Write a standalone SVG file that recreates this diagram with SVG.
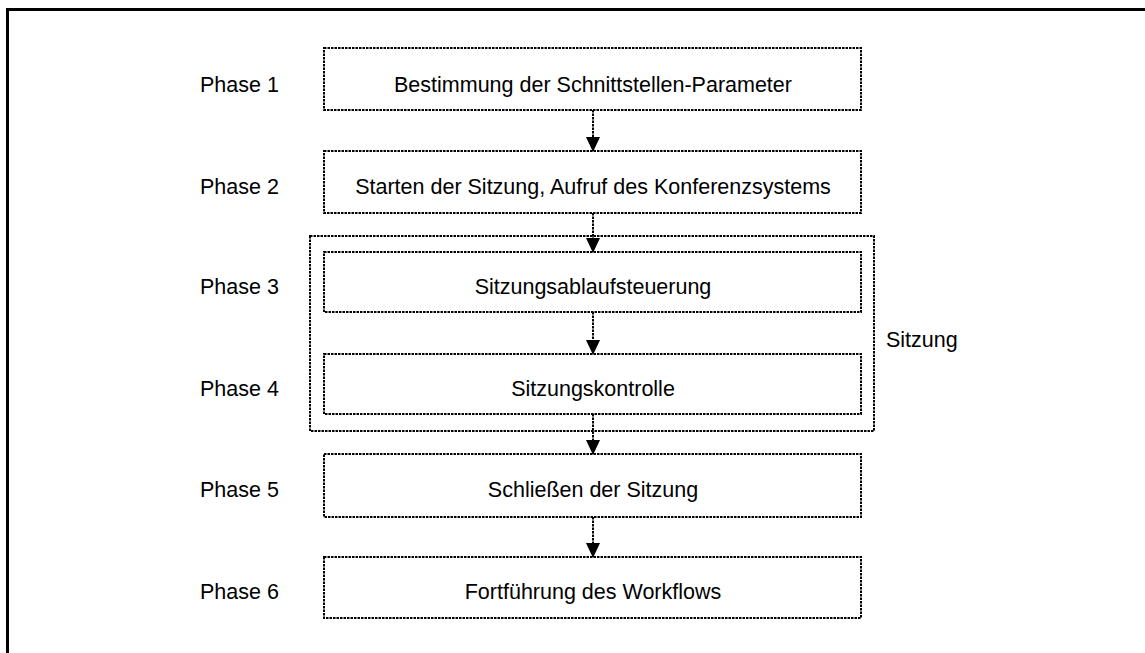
<svg xmlns="http://www.w3.org/2000/svg" width="1145" height="653" viewBox="0 0 1145 653">
<style>
.box{fill:none;stroke:#000;stroke-width:2;stroke-dasharray:2.5 1}
.t{font-family:"Liberation Sans",Arial,sans-serif;font-size:21.5px;fill:#000}
.c{text-anchor:middle}
.con{stroke:#000;stroke-width:2;stroke-dasharray:2.5 1;fill:none}
</style>
<defs>
<marker id="ah" markerWidth="15" markerHeight="15" refX="14" refY="7.5" orient="auto" markerUnits="userSpaceOnUse">
<path d="M0,0.5 L15,7.5 L0,14.5 Z" fill="#000"/>
</marker>
</defs>
<rect width="1145" height="653" fill="#fff"/>
<path d="M7.5,653 V9.5 H1145" fill="none" stroke="#000" stroke-width="3"/>
<g id="labels">
<text class="t" x="200" y="91.5">Phase 1</text>
<text class="t" x="200" y="193.5">Phase 2</text>
<text class="t" x="200" y="293.5">Phase 3</text>
<text class="t" x="200" y="395.5">Phase 4</text>
<text class="t" x="200" y="496.5">Phase 5</text>
<text class="t" x="200" y="598.5">Phase 6</text>
</g>
<g id="sitzung">
<rect class="box" x="310" y="236" width="564" height="195"/>
<text class="t" x="886" y="346.5">Sitzung</text>
</g>
<g id="n1"><rect class="box" x="324" y="48" width="537" height="62"/><text class="t c" x="593" y="91.5">Bestimmung der Schnittstellen-Parameter</text></g>
<g id="n2"><rect class="box" x="324" y="151" width="537" height="62"/><text class="t c" x="593" y="193.5">Starten der Sitzung, Aufruf des Konferenzsystems</text></g>
<g id="n3"><rect class="box" x="324" y="252" width="537" height="60"/><text class="t c" x="593" y="293.5">Sitzungsablaufsteuerung</text></g>
<g id="n4"><rect class="box" x="324" y="354" width="537" height="60"/><text class="t c" x="593" y="395.5">Sitzungskontrolle</text></g>
<g id="n5"><rect class="box" x="324" y="454" width="537" height="63"/><text class="t c" x="593" y="496.5">Schließen der Sitzung</text></g>
<g id="n6"><rect class="box" x="324" y="557" width="537" height="61"/><text class="t c" x="593" y="598.5">Fortführung des Workflows</text></g>
<g id="connectors">
<line class="con" x1="593" y1="110" x2="593" y2="151" marker-end="url(#ah)"/>
<line class="con" x1="593" y1="213" x2="593" y2="252" marker-end="url(#ah)"/>
<line class="con" x1="593" y1="312" x2="593" y2="354" marker-end="url(#ah)"/>
<line class="con" x1="593" y1="414" x2="593" y2="454" marker-end="url(#ah)"/>
<line class="con" x1="593" y1="517" x2="593" y2="557" marker-end="url(#ah)"/>
</g>
</svg>
